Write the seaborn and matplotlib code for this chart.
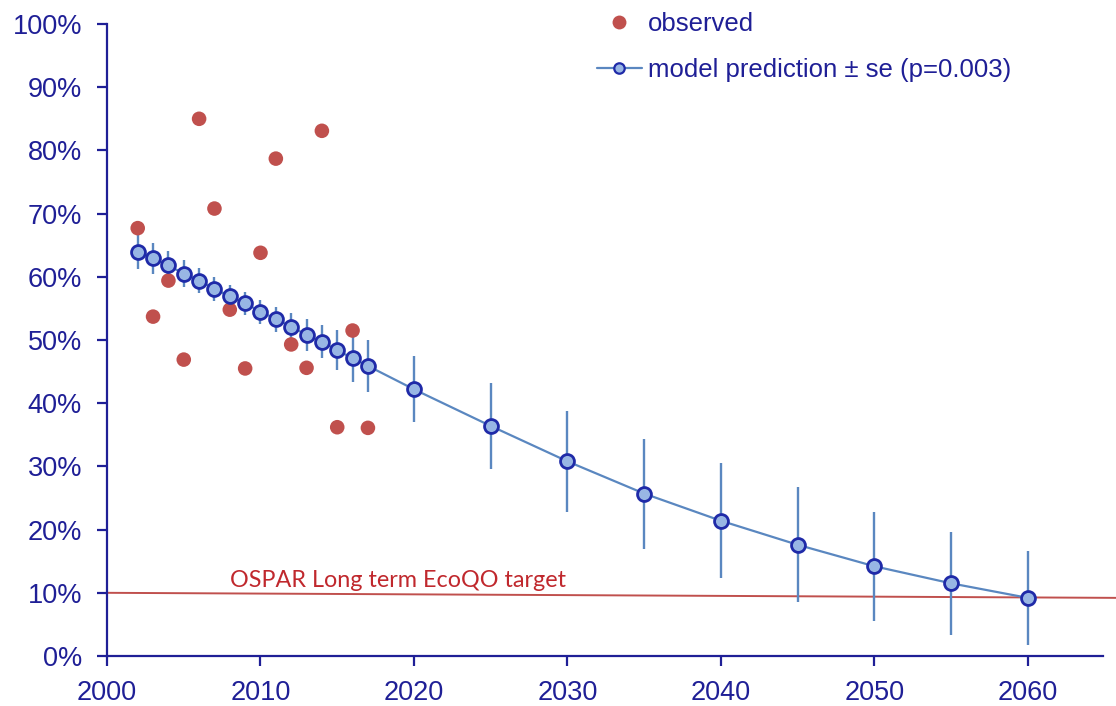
import numpy as np
import pandas as pd
import matplotlib
matplotlib.use("Agg")
import matplotlib.pyplot as plt
import seaborn as sns
from matplotlib.lines import Line2D
from matplotlib.ticker import PercentFormatter, MultipleLocator

# Observed proportions per year
obs_years = [2002, 2003, 2004, 2005, 2006, 2007, 2008, 2009,
             2010, 2011, 2012, 2013, 2014, 2015, 2016, 2017]
obs_values = [0.677, 0.537, 0.594, 0.469, 0.850, 0.708, 0.548, 0.455,
              0.638, 0.787, 0.493, 0.456, 0.831, 0.362, 0.515, 0.361]

# Model predictions with standard errors
pred_years = [2002, 2003, 2004, 2005, 2006, 2007, 2008, 2009,
              2010, 2011, 2012, 2013, 2014, 2015, 2016, 2017,
              2020, 2025, 2030, 2035, 2040, 2045, 2050, 2055, 2060]
pred_values = [0.640, 0.629, 0.618, 0.605, 0.594, 0.581, 0.569, 0.558,
               0.545, 0.533, 0.521, 0.508, 0.497, 0.484, 0.471, 0.459,
               0.422, 0.364, 0.308, 0.257, 0.214, 0.176, 0.142, 0.115, 0.092]
pred_se = [0.027, 0.025, 0.023, 0.021, 0.020, 0.019, 0.018, 0.018,
           0.019, 0.020, 0.022, 0.025, 0.026, 0.032, 0.038, 0.041,
           0.052, 0.068, 0.080, 0.087, 0.091, 0.091, 0.086, 0.082, 0.074]

# Long-term target line endpoints
target_years = [2000, 2065.8]
target_values = [0.100, 0.092]
target_label = "OSPAR Long term EcoQO target"

obs_df = pd.DataFrame({"year": obs_years, "value": obs_values})
pred_df = pd.DataFrame({"year": pred_years, "value": pred_values, "se": pred_se})

sns.set_theme(style="white")
plt.rcParams["font.family"] = ["Liberation Sans", "DejaVu Sans"]

navy = "#1f1f96"
red = "#c0504d"
line_blue = "#5a87c0"
fill_blue = "#98b6e4"
edge_blue = "#1f2aa8"

fig = plt.figure(figsize=(11.16, 7.06), dpi=100)
ax = fig.add_axes([0.0959, 0.0708, 0.8925, 0.8952])

# target line
ax.plot(target_years, target_values, color=red, lw=1.4, clip_on=False, zorder=1)
ax.text(2008.0, 0.119, target_label, color="#c0282d", fontsize=16.8,
        family=["Lato", "DejaVu Sans"], ha="left", va="center")

# observed points
sns.scatterplot(data=obs_df, x="year", y="value", ax=ax, color=red, s=110,
                edgecolor="none", zorder=3, legend=False)

# prediction error bars
ax.errorbar(pred_df["year"], pred_df["value"], yerr=pred_df["se"], fmt="none",
            ecolor=line_blue, elinewidth=1.7, capsize=0, zorder=2)

# prediction line and markers
sns.lineplot(data=pred_df, x="year", y="value", ax=ax, color=line_blue, lw=1.6,
             marker="o", markersize=10, markerfacecolor=fill_blue,
             markeredgecolor=edge_blue, markeredgewidth=2.0, zorder=4,
             estimator=None, sort=False)

ax.set_xlim(2000, 2064.9)
ax.set_ylim(0, 1.0)
ax.xaxis.set_major_locator(MultipleLocator(10))
ax.yaxis.set_major_locator(MultipleLocator(0.1))
ax.yaxis.set_major_formatter(PercentFormatter(1.0, decimals=0))
ax.set_xlabel("")
ax.set_ylabel("")

for side in ["top", "right"]:
    ax.spines[side].set_visible(False)
for side in ["left", "bottom"]:
    ax.spines[side].set_color(navy)
    ax.spines[side].set_linewidth(1.6)

ax.tick_params(axis="both", which="major", direction="out", length=7, width=1.6,
               color=navy, labelcolor=navy, labelsize=19.5,
               left=True, bottom=True)
ax.tick_params(axis="y", pad=11)
ax.tick_params(axis="x", pad=10)

handles = [
    Line2D([], [], ls="none", marker="o", markersize=10, color=red,
           markeredgecolor="none"),
    Line2D([], [], color=line_blue, lw=1.6, marker="o", markersize=7.5,
           markerfacecolor=fill_blue, markeredgecolor=edge_blue,
           markeredgewidth=1.6),
]
labels = ["observed", "model prediction \u00b1 se (p=0.003)"]
leg = ax.legend(handles, labels, loc="upper left",
                bbox_to_anchor=(597 / 1116, 1 - 12 / 706),
                bbox_transform=fig.transFigure, frameon=False,
                fontsize=18.5, handlelength=1.75, handletextpad=0.23,
                labelspacing=0.86, borderpad=0.0, borderaxespad=0.0)
for t in leg.get_texts():
    t.set_color(navy)

fig.savefig("out.png", dpi=100)
